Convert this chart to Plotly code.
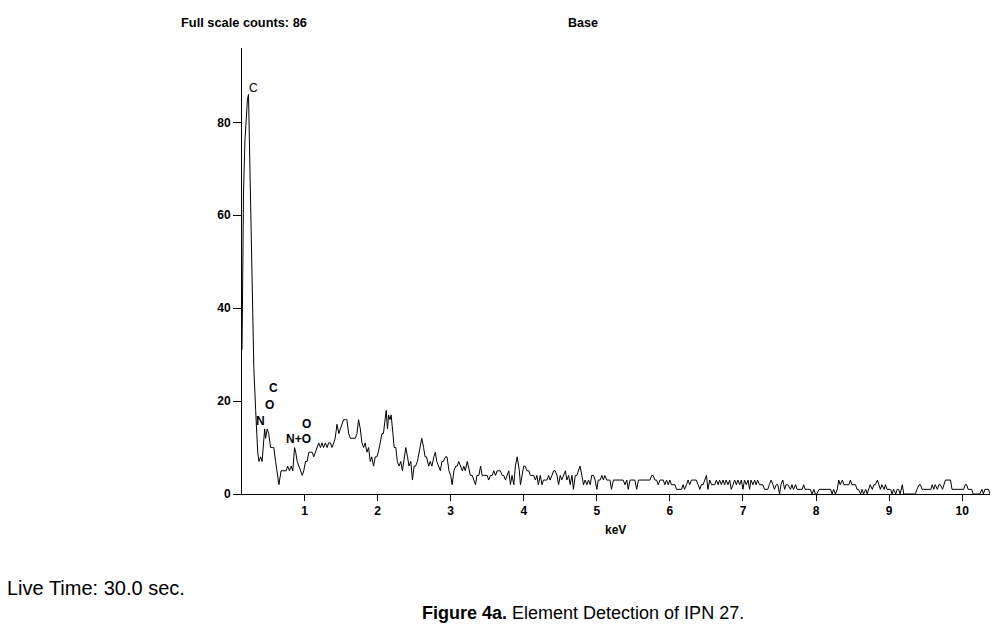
import plotly.graph_objects as go

# Spectrum: energy (keV) and counts
kev = [
    0.145, 0.15, 0.166, 0.185, 0.203, 0.22, 0.234, 0.248, 0.26, 0.27, 0.29, 0.307, 0.332, 0.345, 0.36, 0.377,
    0.40, 0.42, 0.436, 0.455, 0.468, 0.49, 0.51, 0.536, 0.56, 0.58, 0.605, 0.627, 0.65, 0.66, 0.68, 0.705,
    0.727, 0.75, 0.77, 0.795, 0.818, 0.84, 0.864, 0.88, 0.90, 0.923, 0.945, 0.97, 0.99, 1.014, 1.036, 1.06,
    1.08, 1.105, 1.127, 1.15, 1.17, 1.195, 1.218, 1.24, 1.26, 1.286, 1.31, 1.33, 1.355, 1.377, 1.40, 1.42,
    1.445, 1.47, 1.49, 1.514, 1.536, 1.56, 1.58, 1.605, 1.627, 1.65, 1.67, 1.695, 1.718, 1.74, 1.764, 1.786,
    1.81, 1.83, 1.855, 1.877, 1.90, 1.92, 1.945, 1.968, 1.99, 2.01, 2.036, 2.06, 2.08, 2.105, 2.118, 2.136,
    2.15, 2.17, 2.186, 2.21, 2.227, 2.25, 2.27, 2.295, 2.318, 2.34, 2.36, 2.386, 2.41, 2.43, 2.455, 2.477,
    2.50, 2.52, 2.545, 2.57, 2.58, 2.605, 2.63, 2.65, 2.67, 2.70, 2.72, 2.744, 2.77, 2.79, 2.81, 2.84,
    2.86, 2.88, 2.90, 2.93, 2.95, 2.977, 3.0, 3.02, 3.045, 3.07, 3.09, 3.11, 3.136, 3.16, 3.18, 3.2,
    3.227, 3.25, 3.27, 3.295, 3.318, 3.34, 3.36, 3.386, 3.41, 3.43, 3.455, 3.477, 3.5, 3.52, 3.545, 3.57,
    3.59, 3.614, 3.636, 3.66, 3.68, 3.705, 3.727, 3.75, 3.77, 3.795, 3.818, 3.84, 3.864, 3.886, 3.91, 3.92,
    3.94, 3.955, 3.977, 4.0, 4.02, 4.045, 4.07, 4.09, 4.11, 4.136, 4.16, 4.18, 4.2, 4.227, 4.25, 4.27,
    4.295, 4.318, 4.34, 4.36, 4.386, 4.41, 4.43, 4.455, 4.477, 4.5, 4.52, 4.545, 4.57, 4.59, 4.614, 4.636,
    4.66, 4.68, 4.705, 4.727, 4.75, 4.77, 4.795, 4.818, 4.84, 4.864, 4.886, 4.91, 4.93, 4.955, 4.977, 5.0,
    5.02, 5.045, 5.07, 5.09, 5.11, 5.136, 5.16, 5.18, 5.2, 5.227, 5.25, 5.27, 5.295, 5.318, 5.34, 5.36,
    5.386, 5.41, 5.43, 5.455, 5.477, 5.5, 5.52, 5.545, 5.57, 5.59, 5.614, 5.636, 5.66, 5.68, 5.705, 5.727,
    5.75, 5.77, 5.795, 5.818, 5.84, 5.864, 5.886, 5.91, 5.93, 5.955, 5.977, 6.0, 6.02, 6.045, 6.07, 6.09,
    6.11, 6.136, 6.16, 6.18, 6.2, 6.227, 6.25, 6.27, 6.295, 6.318, 6.34, 6.36, 6.386, 6.41, 6.43, 6.455,
    6.477, 6.5, 6.52, 6.545, 6.57, 6.59, 6.614, 6.636, 6.66, 6.68, 6.705, 6.727, 6.75, 6.77, 6.795, 6.818,
    6.84, 6.864, 6.886, 6.91, 6.93, 6.955, 6.977, 7.0, 7.02, 7.045, 7.07, 7.09, 7.11, 7.136, 7.16, 7.18,
    7.2, 7.227, 7.25, 7.27, 7.295, 7.318, 7.34, 7.36, 7.386, 7.41, 7.43, 7.455, 7.477, 7.5, 7.52, 7.545,
    7.57, 7.59, 7.614, 7.65, 7.67, 7.69, 7.72, 7.74, 7.76, 7.785, 7.81, 7.83, 7.85, 7.88, 7.9, 7.92,
    7.945, 7.97, 7.99, 8.01, 8.04, 8.06, 8.08, 8.105, 8.13, 8.15, 8.17, 8.2, 8.22, 8.24, 8.265, 8.29,
    8.31, 8.33, 8.36, 8.38, 8.4, 8.42, 8.45, 8.47, 8.49, 8.52, 8.54, 8.56, 8.58, 8.61, 8.63, 8.65,
    8.68, 8.7, 8.72, 8.74, 8.77, 8.79, 8.81, 8.84, 8.86, 8.88, 8.9, 8.93, 8.95, 8.97, 9.0, 9.02,
    9.04, 9.06, 9.09, 9.11, 9.13, 9.15, 9.18, 9.2, 9.22, 9.25, 9.29, 9.34, 9.36, 9.38, 9.41, 9.43,
    9.45, 9.47, 9.5, 9.52, 9.54, 9.57, 9.59, 9.61, 9.63, 9.66, 9.68, 9.7, 9.73, 9.75, 9.77, 9.79,
    9.81, 9.84, 9.86, 9.89, 9.91, 9.93, 9.95, 9.97, 9.99, 10.02, 10.04, 10.06, 10.08, 10.11, 10.13, 10.15,
    10.2, 10.24, 10.27, 10.29, 10.31, 10.33, 10.36, 10.38,
]
counts = [
    31, 46, 65, 76, 82, 85, 86, 76, 66, 57, 39, 27, 18, 12, 9, 7,
    8, 7, 10, 14, 12, 14, 13, 10, 10, 10, 7, 5, 2, 3, 5, 5,
    5, 5, 6, 5, 6, 5, 10, 9, 7, 6, 5, 4, 5, 7, 7, 9,
    9, 9, 8, 9, 10, 11, 10, 11, 10, 11, 10, 11, 11, 10, 11, 12,
    15, 13, 14, 15, 16, 16, 16, 13, 12, 12, 12, 12, 13, 16, 14, 11,
    10, 11, 9, 10, 7, 8, 6, 8, 8, 9, 11, 13, 13, 16, 18, 14,
    17, 16, 17, 13, 10, 10, 7, 6, 7, 5, 7, 10, 8, 6, 7, 3,
    6, 6, 7, 9, 10, 12, 10, 8, 8, 6, 7, 6, 8, 9, 7, 6,
    5, 7, 7, 8, 8, 5, 4, 2, 5, 6, 6, 7, 6, 5, 6, 5,
    7, 5, 4, 4, 3, 2, 4, 4, 6, 4, 4, 4, 4, 3, 4, 4,
    5, 4, 5, 5, 5, 4, 4, 3, 4, 5, 2, 4, 2, 6, 8, 7,
    5, 2, 4, 6, 6, 5, 5, 4, 4, 4, 3, 4, 2, 4, 2, 3,
    3, 3, 4, 3, 4, 5, 5, 4, 2, 4, 3, 4, 5, 3, 4, 2,
    4, 1, 4, 4, 5, 6, 4, 2, 3, 2, 3, 2, 4, 4, 3, 1,
    3, 3, 4, 3, 4, 3, 3, 3, 1, 3, 3, 3, 3, 3, 3, 3,
    2, 3, 1, 3, 3, 3, 3, 1, 3, 3, 3, 3, 3, 3, 3, 3,
    4, 4, 3, 3, 2, 3, 3, 3, 2, 3, 2, 3, 2, 2, 2, 1,
    1, 1, 1, 2, 1, 2, 3, 2, 3, 3, 3, 3, 2, 1, 2, 2,
    3, 4, 1, 3, 2, 2, 2, 3, 2, 3, 2, 3, 2, 3, 2, 3,
    1, 2, 3, 2, 3, 2, 3, 1, 3, 2, 3, 1, 3, 2, 3, 2,
    3, 2, 2, 2, 1, 1, 1, 2, 3, 2, 1, 2, 2, 0, 2, 3,
    1, 2, 2, 1, 2, 1, 2, 1, 1, 1, 1, 2, 1, 1, 1, 1,
    0, 1, 0, 0, 1, 1, 1, 1, 1, 1, 1, 1, 0, 1, 0, 1,
    3, 2, 3, 2, 2, 2, 2, 3, 2, 2, 2, 1, 1, 0, 1, 0,
    1, 0, 1, 2, 1, 2, 2, 3, 2, 1, 2, 1, 2, 1, 1, 1,
    0, 1, 0, 1, 1, 0, 2, 0, 0, 0, 0, 0, 0, 1, 2, 2,
    1, 1, 1, 1, 1, 1, 2, 1, 2, 1, 2, 2, 1, 2, 3, 3,
    3, 3, 1, 1, 1, 1, 1, 1, 1, 1, 2, 2, 1, 1, 1, 0,
    0, 0, 1, 0, 1, 1, 1, 0,
]

x_ticks = [1, 2, 3, 4, 5, 6, 7, 8, 9, 10]
y_ticks = [0, 20, 40, 60, 80]

# peak labels: (text, keV, counts)
peak_labels = [
    ("C", 0.303, 87.3),
    ("C", 0.576, 22.8),
    ("O", 0.52, 19.1),
    ("N", 0.40, 15.7),
    ("O", 1.027, 15.1),
    ("N+O", 0.918, 11.8),
]

FONT = "Liberation Sans, Arial, sans-serif"
W, H = 1000, 631
ML, MR, MT, MB = 241.5, 10, 48, 137
PW, PH = W - ML - MR, H - MT - MB


def px_to_paper(px, py):
    return (px - ML) / PW, (H - MB - py) / PH


fig = go.Figure()
fig.add_trace(go.Scatter(
    x=kev, y=counts, mode="lines",
    line=dict(color="black", width=1),
    hoverinfo="skip", showlegend=False,
))

for txt, xv, yv in peak_labels:
    fig.add_annotation(
        x=xv, y=yv, xref="x", yref="y", text=txt, showarrow=False,
        font=dict(family=FONT, size=12, color="black",
                  weight="normal" if yv > 50 else "bold"),
    )

page_texts = [
    # text, px, py, anchor, size, family
    ("<b>Full scale counts: 86</b>", 243.5, 23, "center", 12.8, FONT),
    ("<b>Base</b>", 583, 23, "center", 12.5, FONT),
    ("<b>keV</b>", 615, 530, "center", 12, FONT),
    ("Live Time: 30.0 sec.", 4, 588, "left", 20, FONT),
    ("<b>Figure 4a.</b> Element Detection of IPN 27.", 420, 613, "left", 18, FONT),
]
for txt, px, py, anchor, size, fam in page_texts:
    xp, yp = px_to_paper(px, py)
    fig.add_annotation(
        x=xp, y=yp, xref="paper", yref="paper", text=txt,
        showarrow=False, xanchor=anchor, yanchor="middle",
        font=dict(family=fam, size=size, color="black"),
    )

fig.update_layout(
    width=W, height=H,
    margin=dict(l=ML, r=MR, t=MT, b=MB, pad=0),
    paper_bgcolor="white", plot_bgcolor="white",
    font=dict(family=FONT, color="black"),
    xaxis=dict(
        range=[0.145, 10.38], tickvals=x_ticks, ticktext=[str(v) for v in x_ticks],
        showgrid=False, zeroline=False, showline=True, linecolor="black", linewidth=1,
        ticks="outside", ticklen=6, tickwidth=1, tickcolor="black",
        tickfont=dict(family=FONT, size=12, color="black", weight="bold"),
        fixedrange=True,
    ),
    yaxis=dict(
        range=[0, 96], tickvals=y_ticks, ticktext=[str(v) for v in y_ticks],
        showgrid=False, zeroline=False, showline=True, linecolor="black", linewidth=1,
        ticks="outside", ticklen=8, tickwidth=1, tickcolor="black",
        tickfont=dict(family=FONT, size=12, color="black", weight="bold"),
        fixedrange=True,
    ),
)

fig.write_html("out.html")
